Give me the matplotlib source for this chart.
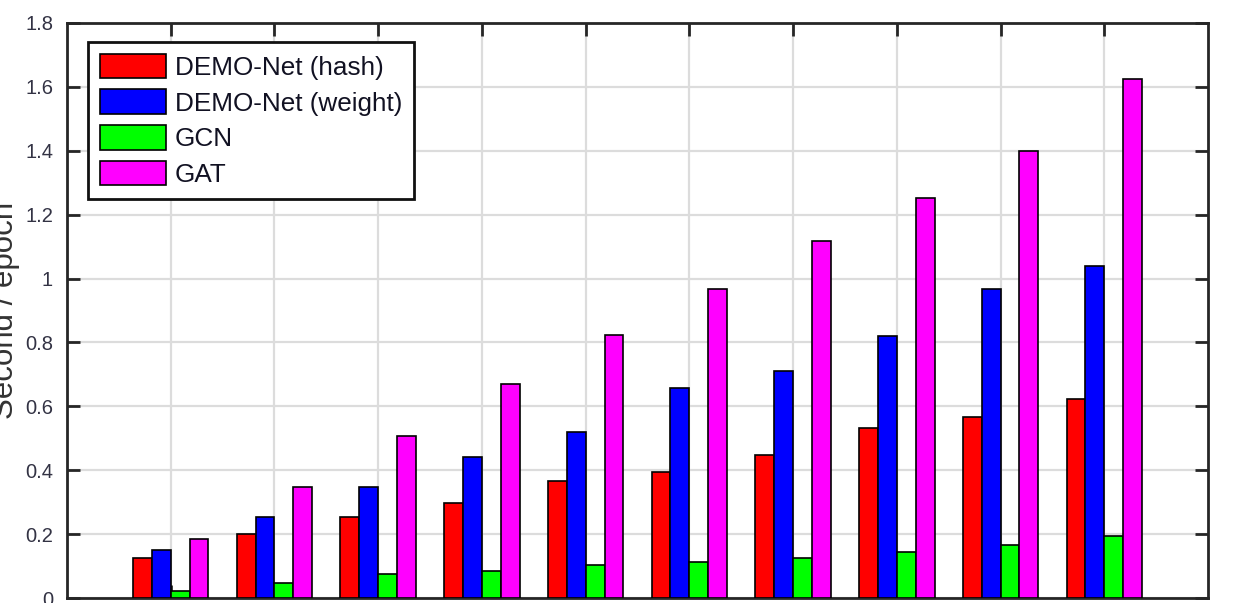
import matplotlib
matplotlib.use("Agg")
import matplotlib.pyplot as plt
import numpy as np

groups = [1, 2, 3, 4, 5, 6, 7, 8, 9, 10]
series_names = ["DEMO-Net (hash)", "DEMO-Net (weight)", "GCN", "GAT"]
demo_hash = [0.126, 0.200, 0.253, 0.298, 0.367, 0.395, 0.447, 0.531, 0.566, 0.623]
demo_weight = [0.150, 0.253, 0.349, 0.440, 0.521, 0.658, 0.711, 0.820, 0.966, 1.040]
gcn = [0.023, 0.048, 0.075, 0.085, 0.103, 0.114, 0.126, 0.143, 0.166, 0.195]
gat = [0.184, 0.349, 0.508, 0.669, 0.823, 0.966, 1.117, 1.251, 1.400, 1.624]
colors = ["#ff0000", "#0000ff", "#00ff00", "#ff00ff"]
yticks = [0, 0.2, 0.4, 0.6, 0.8, 1, 1.2, 1.4, 1.6, 1.8]
ytick_labels = ["0", "0.2", "0.4", "0.6", "0.8", "1", "1.2", "1.4", "1.6", "1.8"]
ylabel = "Second / epoch"

plt.rcParams['font.family'] = ['Liberation Sans', 'DejaVu Sans']

fig = plt.figure(figsize=(12.35, 6.03), dpi=100)
ax = fig.add_axes([67/1235, 5/603, (1208-67)/1235, (598-23)/603])

x = np.array(groups, dtype=float)
w = 0.182
all_series = [demo_hash, demo_weight, gcn, gat]
for i, (vals, c, name) in enumerate(zip(all_series, colors, series_names)):
    ax.bar(x + (i - 1.5) * w, vals, width=w, color=c, edgecolor='black',
           linewidth=1.2, label=name, zorder=3)

ax.set_xlim(0, 11)
ax.set_ylim(0, 1.8)
ax.set_xticks(groups)
ax.set_xticklabels([""] * len(groups))
ax.set_yticks(yticks)
ax.set_yticklabels(ytick_labels)

ax.grid(True, color='#dcdcdc', linewidth=1.6, zorder=0)
ax.set_axisbelow(True)

for s in ax.spines.values():
    s.set_linewidth(2.0)
    s.set_color('#262626')
ax.tick_params(axis='both', direction='in', length=9.5, width=2.0,
               color='#262626', top=True, right=True, labelsize=14.5,
               labelcolor='#333344', pad=10)

ax.set_ylabel(ylabel, fontsize=22.5, color='#333333')
ax.yaxis.set_label_coords(-0.0415, 0.5)

leg = ax.legend(loc='upper left', bbox_to_anchor=(21/1141, 1 - 19/575),
                borderaxespad=0, fontsize=18.8, frameon=True, fancybox=False,
                handlelength=2.53, handleheight=1.08, handletextpad=0.34,
                labelspacing=0.36, borderpad=0.45)
leg.get_frame().set_edgecolor('#111111')
leg.get_frame().set_linewidth(2.0)
leg.get_frame().set_alpha(1)
for t in leg.get_texts():
    t.set_color('#111122')

fig.savefig("out.png", dpi=100)
